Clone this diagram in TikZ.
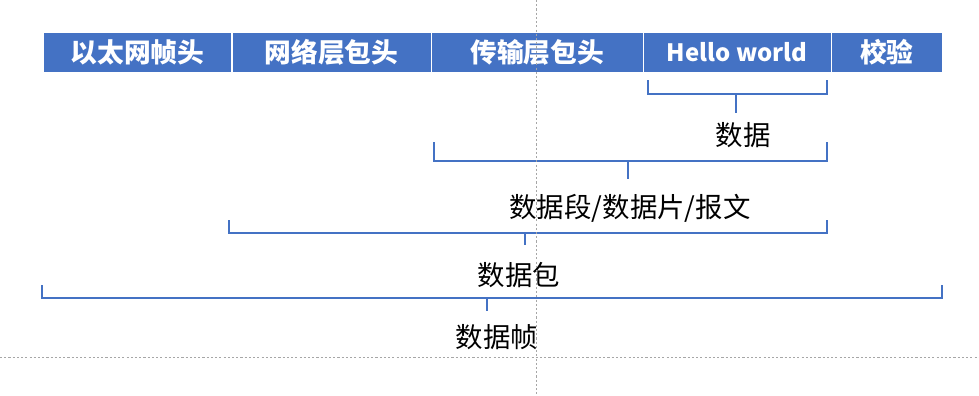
\documentclass[tikz,border=0pt]{standalone}
\usepackage{fontspec}
\setmainfont{Noto Sans CJK SC}
\usetikzlibrary{positioning}
\definecolor{hdrblue}{HTML}{4472C4}

\begin{document}
\begin{tikzpicture}[x=0.025cm, y=-0.025cm,
  seg/.style={draw=white, line width=0.8pt, fill=hdrblue, text=white, outer sep=0pt,
    font=\bfseries\fontsize{19}{19}\selectfont, minimum height=1.025cm, inner sep=0pt},
  brace/.style={draw=hdrblue, line width=1.4pt},
  lbl/.style={font=\fontsize{19.5}{19.5}\selectfont, inner sep=0pt},
  guide/.style={draw=gray!70, line width=0.6pt, dash pattern=on 1.5pt off 1.5pt}]
  \useasboundingbox (0,0) rectangle (979,395);

  % 报文各段
  \node[seg, anchor=north west, minimum width=4.725cm] (eth) at (43,32) {以太网帧头};
  \node[seg, right=0pt of eth, minimum width=4.975cm] (net) {网络层包头};
  \node[seg, right=0pt of net, minimum width=5.3cm] (trans) {传输层包头};
  \node[seg, right=0pt of trans, minimum width=4.7cm, font=\bfseries\fontsize{17}{17}\selectfont] (hello) {Hello world};
  \node[seg, right=0pt of hello, minimum width=2.775cm] (chk) {校验};

  % 括号和名称
  \draw[brace] (648,80) -- (648,94) -- (827,94) -- (827,80);
  \draw[brace] (736,94) -- (736,113);
  \node[lbl] (data) at (743,135) {数据};

  \draw[brace] (434,142) -- (434,161) -- (827,161) -- (827,142);
  \draw[brace] (628,161) -- (628,179);
  \node[lbl] (segment) at (630,208) {数据段/数据片/报文};

  \draw[brace] (229,220) -- (229,233) -- (827,233) -- (827,220);
  \draw[brace] (525,233) -- (525,245);
  \node[lbl] (packet) at (519,275) {数据包};

  \draw[brace] (42,285) -- (42,298) -- (942,298) -- (942,285);
  \draw[brace] (487,298) -- (487,311);
  \node[lbl] (frame) at (497,337) {数据帧};

  % 参考线
  \draw[guide] (536,0) -- (536,395);
  \draw[guide] (0,357) -- (979,357);
\end{tikzpicture}
\end{document}
